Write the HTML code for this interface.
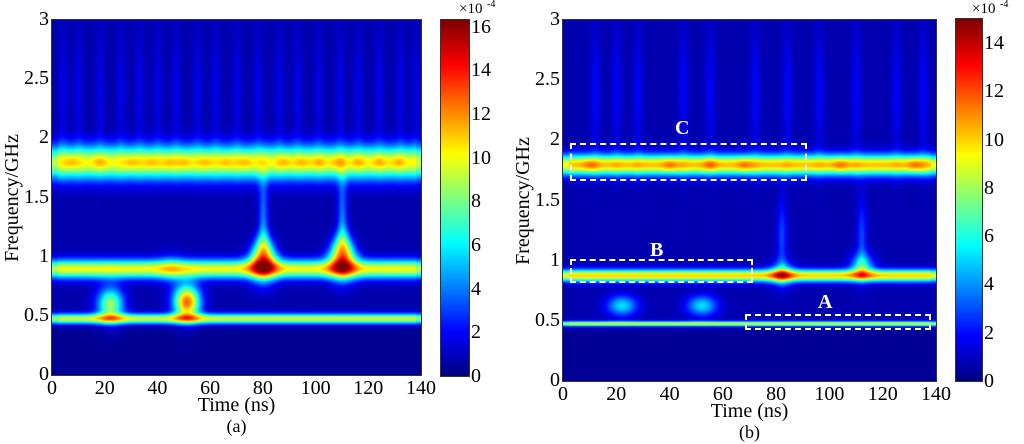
<!DOCTYPE html>
<html><head><meta charset="utf-8">
<style>
html,body{margin:0;padding:0;background:#fff;}
#root{position:relative;width:1024px;height:444px;overflow:hidden;font-family:"Liberation Serif",serif;color:#000;}
.t{position:absolute;font-size:20px;line-height:20px;white-space:nowrap;}
canvas{position:absolute;}
.box{position:absolute;border:2px dashed #fff;box-sizing:border-box;}
.lbl{position:absolute;color:#fff;font-weight:bold;font-size:20px;line-height:20px;}
</style></head><body>
<div id="root">
<canvas id="cA" width="369" height="355" style="left:51px;top:19px;border:1px solid #333;box-sizing:content-box"></canvas>
<canvas id="cbA" width="28" height="356" style="left:441px;top:20px;outline:1px solid #333"></canvas>
<canvas id="cB" width="373" height="361" style="left:562px;top:19px;border:1px solid #333;box-sizing:content-box"></canvas>
<canvas id="cbB" width="26" height="362" style="left:956px;top:19px;outline:1px solid #333"></canvas>
<div id="labels"></div>
<div class="box" style="left:570px;top:143px;width:237px;height:38px"></div>
<div class="box" style="left:570px;top:259px;width:183px;height:24px"></div>
<div class="box" style="left:745px;top:314px;width:186px;height:16px"></div>
<div class="lbl" style="left:675px;top:118px">C</div>
<div class="lbl" style="left:650px;top:240px">B</div>
<div class="lbl" style="left:818px;top:292px">A</div>
</div>
<script>
// ---- data (panel a) ----
const bandFreqA=[1.8,0.9,0.48];
const bandAmpA=[9.3,9.3,8.8];
const bandWidthA=[0.1,0.055,0.03];
const blobTimeA=[80,110,22,51,45,80,110];
const blobFreqA=[1.0,1.02,0.6,0.62,0.9,1.4,1.4];
const blobAmpA=[11,11,8,12,1.5,3,3];
const spotTimeA=[7,18,30,37,44,50,58,66,73,88,95,101,108,116,124,131];
const streakTimeA=[4,10,18,26,33,40,47,55,62,70,78,86,93,101,109,116,124,132,138];
// ---- data (panel b) ----
const bandFreqB=[1.8,0.88,0.48];
const bandAmpB=[9.6,9.3,8.3];
const bandWidthB=[0.06,0.035,0.014];
const blobTimeB=[82,112,22,52,112,82];
const blobFreqB=[0.9,0.96,0.63,0.63,1.2,1.2];
const blobAmpB=[4.5,5,4.5,4.5,2.2,2.2];
const spotTimeB=[10,40,55,68,104,132];
const streakTimeB=[12,20,28,45,55,72,84,96,110,125,135];
const ticksX=[0,20,40,60,80,100,120,140];
const ticksY=[0,0.5,1,1.5,2,2.5,3];

function jet(v){
  const c=x=>Math.max(0,Math.min(1,x));
  return [c(Math.min(4*v-1.5,-4*v+4.5)),c(Math.min(4*v-0.5,-4*v+3.5)),c(Math.min(4*v+0.5,-4*v+2.5))];
}
function g(x,s){return Math.exp(-x*x/(2*s*s));}
function render(id,bf,ba,bw,bt,bfq,bam,sp,st,vmax,isB){
  const cv=document.getElementById(id),ctx=cv.getContext('2d');
  const W=cv.width,H=cv.height,img=ctx.createImageData(W,H);
  for(let y=0;y<H;y++){const f=3*(1-y/H);
    for(let x=0;x<W;x++){const t=140*x/W;
      let v=f<0.42?0.35:0.7;
      for(const s of st){v+=(isB?1.1:1.0)*g(t-s,1.3)*g(f-2.4,0.4);}
      for(let i=0;i<bf.length;i++){v+=ba[i]*g(f-bf[i],bw[i]);}
      for(const s of sp){v+=1.2*g(t-s,2)*g(f-bf[0],0.04);}
      for(let i=0;i<bt.length;i++){
        let sf,stt;
        if(bfq[i]>1.1){sf=0.22;stt=1.3;}
        else if(isB&&bfq[i]<0.8){sf=0.06;stt=4;}
        else if(isB){sf=0.07;stt=3;}
        else if(bfq[i]>0.95){sf=0.13;stt=3.5*(1-Math.max(0,f-bfq[i])*2);}
        else {sf=0.1;stt=3.5;}
        v+=bam[i]*g(t-bt[i],Math.max(0.5,stt))*g(f-bfq[i],sf);}
      if(t<2||t>138){v*=0.9;}
      const c=jet(Math.min(1,v/vmax)),k=4*(y*W+x);
      img.data[k]=c[0]*255;img.data[k+1]=c[1]*255;img.data[k+2]=c[2]*255;img.data[k+3]=255;}}
  ctx.putImageData(img,0,0);
}
render('cA',bandFreqA,bandAmpA,bandWidthA,blobTimeA,blobFreqA,blobAmpA,spotTimeA,streakTimeA,16.3,false);
render('cB',bandFreqB,bandAmpB,bandWidthB,blobTimeB,blobFreqB,blobAmpB,spotTimeB,streakTimeB,15,true);
function cbar(id){const cv=document.getElementById(id),ctx=cv.getContext('2d');
  for(let y=0;y<cv.height;y++){const c=jet(1-y/cv.height);ctx.fillStyle=`rgb(${c[0]*255|0},${c[1]*255|0},${c[2]*255|0})`;ctx.fillRect(0,y,cv.width,1);}}
cbar('cbA');cbar('cbB');

const L=document.getElementById('labels');
function txt(x,y,s,name,extra){const d=document.createElement('div');d.className='t';d.textContent=s;
  d.style.left=x+'px';d.style.top=y+'px';if(extra)d.style.cssText+=extra;
  
  
  L.appendChild(d);return d;}
function axes(px,py,pw,ph,cbx,cby,cbh,cmax,ctop,cstep,tag){
  for(const v of ticksX){const x=px+pw*v/140;const d=txt(x,py+ph+3,String(v),'x-tick-label');d.style.transform='translateX(-50%)';}
  for(const v of ticksY){const y=py+ph*(1-v/3);const d=txt(px-3,y-11,String(v),'y-tick-label');d.style.transform='translateX(-100%)';}
  for(let v=0;v<=ctop;v+=cstep){const y=cby+cbh*(1-v/cmax);txt(cbx+2,y-10,String(v),'colorbar-tick-label');}
  txt(cbx-10,2,'×10','colorbar-exponent','font-size:15px;line-height:15px');
  txt(cbx+18,0,'-4','colorbar-exponent-power','font-size:10px;line-height:10px');
  const xl=txt(px+pw/2,py+ph+20,'Time (ns)','x-axis-title');xl.style.transform='translateX(-50%)';
  const cap=txt(px+pw/2,py+ph+41,tag,'panel-caption','font-size:18px');cap.style.transform='translateX(-50%)';
  const yl=txt(0,py+ph/2-10,'Frequency/GHz','y-axis-title');
  yl.style.transform='rotate(-90deg)';yl.style.transformOrigin='50% 50%';
  const w=yl.offsetWidth;yl.style.left=(px-40-w/2)+'px';
}
axes(52,20,369,355,469,20,356,16.3,16,2,'(a)');
axes(563,20,373,361,982,19,362,15,14,2,'(b)');
</script>
</body></html>
